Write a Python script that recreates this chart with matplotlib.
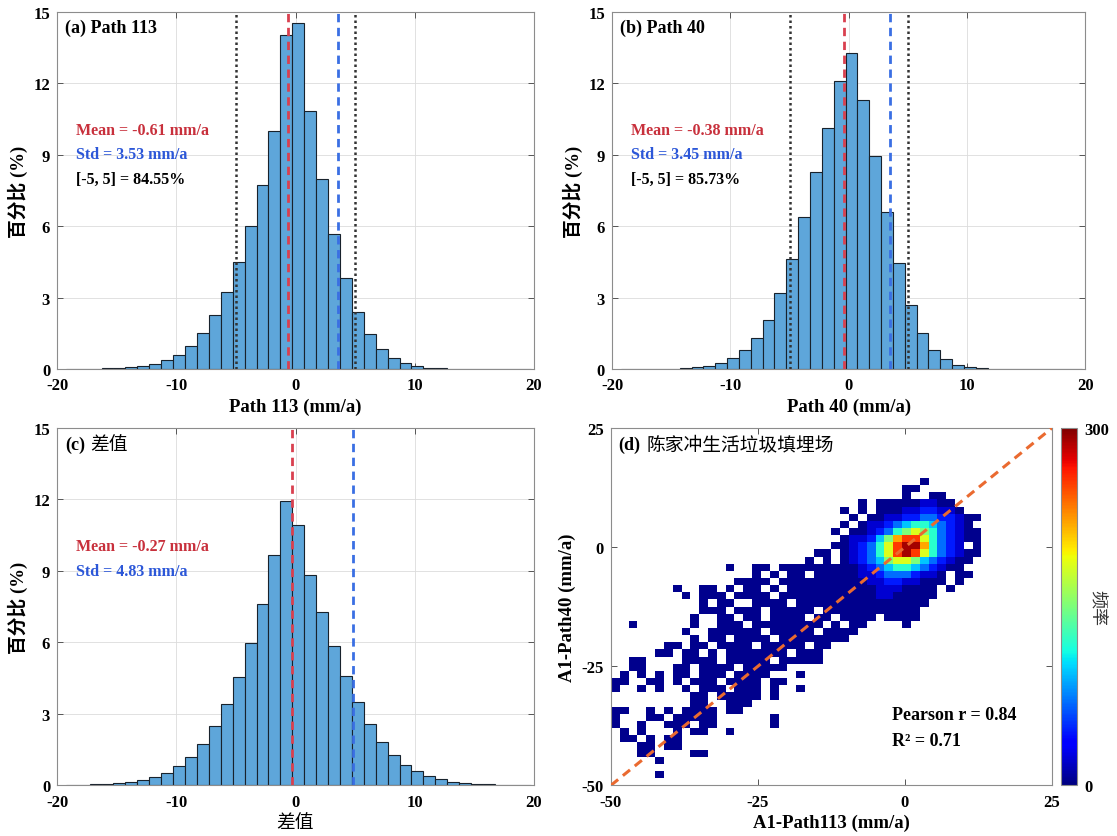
import numpy as np
import matplotlib
matplotlib.use('Agg')
import matplotlib.pyplot as plt

plt.rcParams['font.family'] = ['Liberation Serif', 'Noto Sans CJK SC']
plt.rcParams['axes.unicode_minus'] = False

# ---------------- histogram data (percent per 1 mm/a bin) ----------------

BIN_OFFSET = -0.27
bin_index = np.arange(-19, 20)

path113_pct = [0.01, 0.01, 0.02, 0.03, 0.05, 0.08, 0.13, 0.21, 0.38, 0.60,
               0.97, 1.51, 2.27, 3.25, 4.48, 5.99, 7.71, 9.99, 14.02,
               14.54, 10.84, 7.98, 5.65, 3.81, 2.41, 1.46, 0.84, 0.46, 0.24,
               0.11, 0.06, 0.03, 0.02, 0.01, 0.01, 0, 0, 0, 0]

path40_pct = [0, 0, 0.01, 0.01, 0.02, 0.04, 0.07, 0.14, 0.25, 0.46,
              0.78, 1.29, 2.07, 3.19, 4.62, 6.37, 8.26, 10.13, 12.09,
              13.26, 11.28, 8.95, 6.60, 4.45, 2.70, 1.51, 0.80, 0.41, 0.18,
              0.08, 0.04, 0.02, 0.01, 0, 0, 0, 0, 0, 0]

diff_pct = [0.02, 0.03, 0.05, 0.07, 0.10, 0.14, 0.21, 0.34, 0.52, 0.81,
            1.20, 1.73, 2.48, 3.41, 4.56, 5.96, 7.61, 9.67, 11.95,
            10.91, 8.83, 7.26, 5.86, 4.58, 3.48, 2.57, 1.83, 1.27, 0.87,
            0.59, 0.39, 0.25, 0.15, 0.10, 0.06, 0.04, 0.02, 0.01, 0]

means = [-0.61, -0.38, -0.27]
stds = [3.53, 3.45, 4.83]
within5 = [84.55, 85.73, None]

# ---------------- 2-D density (1.5 mm/a cells, rows from top) ----------------

GRID_EDGES = np.linspace(-50, 25, 51)
LEVEL_COUNTS = {'1': 4, '2': 22, '3': 45, '4': 70, '5': 95, '6': 120,
                '7': 150, '8': 185, '9': 220, 'A': 255, 'B': 290}

# (row from top, first column, cell levels)
density_rows = [
    (7, 35, '1'),
    (8, 33, '11'),
    (9, 33, '1..11'),
    (10, 28, '1.111112211'),
    (11, 26, '1.1.1112233221'),
    (12, 27, '1.1122334433211'),
    (13, 26, '1.1223456654321'),
    (14, 25, '1.112346787643211'),
    (15, 26, '1223579AA8643211'),
    (16, 25, '1123468ABB96432.1'),
    (17, 23, '11.123468ABA8643211'),
    (18, 22, '1.1.123457887543211'),
    (19, 13, '1..11.111111111234566543211'),
    (20, 16, '1.1.11.111112234443221.11'),
    (21, 14, '1111.1111111111223322111.1'),
    (22, 7, '1..11.1.11.1.11111111112221111.1'),
    (23, 8, '1.111.1111.111111111112211111'),
    (24, 10, '1.11..1111.111111111111111'),
    (25, 10, '111.111.11111.11111111111'),
    (26, 9, '1..11.11.1111.11.1111.1111'),
    (27, 2, '1......1..111.11111111.1.11....1'),
    (28, 8, '1..111111.11111.1111'),
    (29, 9, '1.11.1111.11111111'),
    (30, 6, '11.11.1111.11111.11'),
    (31, 5, '11.11.1.1111111.111'),
    (32, 2, '11....1111.11111.11111'),
    (33, 2, '11...11.1111.11111'),
    (34, 1, '1.1.1.11.111.1111...1'),
    (35, 0, '11..11.1.111.1111.11'),
    (36, 0, '1..1.1..1.111.111.1..1'),
    (37, 9, '11.11111.1'),
    (38, 9, '11..111'),
    (39, 0, '11..1.1.1111.11'),
    (40, 0, '1...11.11111......1'),
    (41, 0, '1..1..111.11......1'),
    (42, 1, '1.1...1.11..1'),
    (43, 1, '11.1.11'),
    (44, 3, '11.11'),
    (45, 3, '11....11'),
    (46, 5, '1'),
    (48, 5, '1'),
]

pearson_r = 0.84
r_squared = 0.71
one_to_one = [-50, 25]

# ---------------- styles ----------------

BAR_COLOR = '#5ea6da'
BAR_EDGE = '#18222c'
RED_LINE = '#d9404f'
BLUE_LINE = '#3a6fe3'
RED_TXT = '#c8303c'
BLUE_TXT = '#2c57d8'
SPINE = '#8c8c8c'


def style_axes(ax, grid=True):
    for s in ax.spines.values():
        s.set_color(SPINE)
        s.set_linewidth(0.8)
    ax.tick_params(direction='in', top=True, right=True, length=4,
                   width=0.7, color='#555555', labelsize=12)
    ax.tick_params(axis='x', pad=6)
    ax.tick_params(axis='y', pad=5)
    for lbl in ax.get_xticklabels() + ax.get_yticklabels():
        lbl.set_fontweight('bold')
    if grid:
        ax.grid(True, color='#dcdcdc', linewidth=0.6)
        ax.set_axisbelow(True)


def panel_tag(ax, tag, name=None):
    t = ax.text(0.017, 0.955, tag, transform=ax.transAxes, fontsize=13,
                fontweight='bold', va='center')
    if name:
        ax.annotate(name, xy=(1, 0.5), xycoords=t, xytext=(4, 0),
                    textcoords='offset points', fontsize=13.5, va='center')


def hist_panel(ax, pct, mean, std, within, tag, name, xlabel, xlabel_bold):
    ax.bar(bin_index + BIN_OFFSET, pct, width=1.0, align='edge',
           color=BAR_COLOR, edgecolor=BAR_EDGE, linewidth=0.8, zorder=2)
    if within is not None:
        for x in (-5, 5):
            ax.axvline(x, color='#333333', ls=(0, (1, 1.2)), lw=1.8, zorder=3)
    ax.axvline(mean, color=RED_LINE, ls=(0, (3, 2)), lw=2, zorder=4)
    ax.axvline(std, color=BLUE_LINE, ls=(0, (3, 2)), lw=2, zorder=4)

    ax.set_xlim(-20, 20)
    ax.set_ylim(0, 15)
    ax.set_xticks([-20, -10, 0, 10, 20])
    ax.set_yticks(np.arange(0, 16, 3))
    style_axes(ax)

    panel_tag(ax, tag, name)
    ax.text(0.04, 0.669, f'Mean = {mean:.2f} mm/a', transform=ax.transAxes,
            color=RED_TXT, fontsize=11.5, fontweight='bold', va='center')
    ax.text(0.04, 0.601, f'Std = {std:.2f} mm/a', transform=ax.transAxes,
            color=BLUE_TXT, fontsize=11.5, fontweight='bold', va='center')
    if within is not None:
        ax.text(0.04, 0.533, f'[-5, 5] = {within:.2f}%', transform=ax.transAxes,
                color='black', fontsize=11.5, fontweight='bold', va='center')

    ax.set_xlabel(xlabel, fontsize=13.5, labelpad=3,
                  fontweight='bold' if xlabel_bold else 'normal')
    ax.set_ylabel('百分比 (%)', fontsize=13.5, fontweight='bold', labelpad=4)


fig = plt.figure(figsize=(11.17, 8.37), dpi=100)

ax_a = fig.add_axes([0.0511, 0.5579, 0.4269, 0.4269])
ax_b = fig.add_axes([0.5479, 0.5579, 0.4238, 0.4269])
ax_c = fig.add_axes([0.0511, 0.0606, 0.4269, 0.4269])
ax_d = fig.add_axes([0.5470, 0.0606, 0.3948, 0.4269])
cax = fig.add_axes([0.9496, 0.0606, 0.0150, 0.4269])

hist_panel(ax_a, path113_pct, means[0], stds[0], within5[0],
           '(a) Path 113', None, 'Path 113 (mm/a)', True)
hist_panel(ax_b, path40_pct, means[1], stds[1], within5[1],
           '(b) Path 40', None, 'Path 40 (mm/a)', True)
hist_panel(ax_c, diff_pct, means[2], stds[2], within5[2],
           '(c)', '差值', '差值', False)

# density grid -> counts, row 0 at the bottom
counts = np.zeros((50, 50))
for row, col0, cells in density_rows:
    for k, ch in enumerate(cells):
        if ch != '.':
            counts[49 - row, col0 + k] = LEVEL_COUNTS[ch]
counts = np.ma.masked_equal(counts, 0)

mesh = ax_d.pcolormesh(GRID_EDGES, GRID_EDGES, counts, cmap='jet',
                       vmin=0, vmax=300, zorder=2)
ax_d.plot(one_to_one, one_to_one, color='#ea6a30', ls=(0, (3, 2)),
          lw=2.2, zorder=3)
ax_d.set_xlim(-50, 25)
ax_d.set_ylim(-50, 25)
ax_d.set_xticks([-50, -25, 0, 25])
ax_d.set_yticks([-50, -25, 0, 25])
style_axes(ax_d, grid=False)
panel_tag(ax_d, '(d)', '陈家冲生活垃圾填埋场')
ax_d.text(0.637, 0.199, f'Pearson r = {pearson_r:.2f}', transform=ax_d.transAxes,
          fontsize=13, fontweight='bold', va='center')
ax_d.text(0.637, 0.126, f'R² = {r_squared:.2f}', transform=ax_d.transAxes,
          fontsize=13, fontweight='bold', va='center')
ax_d.set_xlabel('A1-Path113 (mm/a)', fontsize=13.5, fontweight='bold', labelpad=3)
ax_d.set_ylabel('A1-Path40 (mm/a)', fontsize=13.5, fontweight='bold', labelpad=4)

cb = fig.colorbar(mesh, cax=cax, ticks=[0, 300])
cb.outline.set_edgecolor(SPINE)
cb.outline.set_linewidth(0.8)
cax.tick_params(length=0, labelsize=12, pad=5)
for lbl in cax.get_yticklabels():
    lbl.set_fontweight('bold')
cax.text(2.1, 0.5, '频率', transform=cax.transAxes, rotation=270,
         ha='center', va='center', fontsize=13, color='#333333')

fig.savefig('out.png', dpi=100)
